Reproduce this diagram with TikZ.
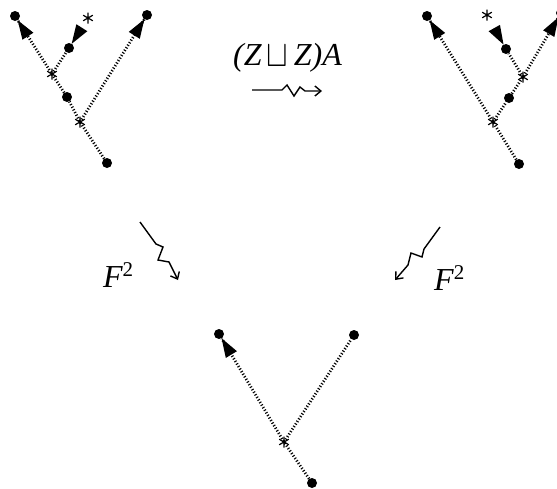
\documentclass[tikz,border=0pt]{standalone}
\usepackage{fontspec}
\setmainfont{Liberation Serif}
\usetikzlibrary{calc,arrows.meta}
\tikzset{
 dotnode/.style={circle,fill=black,inner sep=0pt,minimum size=10pt},
 dline/.style={line width=2.8pt,dash pattern=on 1.1pt off 1.9pt},
 squig/.style={line width=1.4pt,line join=miter,-{Straight Barb[length=6pt,width=10pt,line width=1.4pt]}},
 lbl/.style={inner sep=0pt,font=\fontsize{32}{38}\selectfont\itshape},
 astk/.style={line width=1.2pt},
}
\newcommand\flagtri[2]{\fill ($(#1.center)!5pt!(#2)$) -- ($(#1.center)!24pt!(#2)!6.5pt!90:(#1.center)$) -- ($(#1.center)!24pt!(#2)!6.5pt!-90:(#1.center)$) -- cycle;}
\newcommand\astk[1]{\draw[astk] (#1) +(90:5.5pt) -- +(270:5.5pt) +(30:5.5pt) -- +(210:5.5pt) +(150:5.5pt) -- +(330:5.5pt);}
\begin{document}
\begin{tikzpicture}[x=1pt,y=-1pt]
\useasboundingbox (0,0) rectangle (557,488);
% ---------- left tree ----------
\node[dotnode] (r1) at (107,163) {};
\coordinate (s1) at (80,122);
\node[dotnode] (d1) at (67,97) {};
\coordinate (u1) at (52,74);
\node[dotnode] (l1) at (15,16) {};
\node[dotnode] (m1) at (69,48) {};
\coordinate (sm1) at (88,18);
\node[dotnode] (t1) at (147,15) {};
\draw[dline] (r1) -- (s1) -- (d1) -- (u1) -- (l1);
\draw[dline] (u1) -- (m1);
\draw[dline] (s1) -- (t1);
\flagtri{l1}{u1}
\flagtri{m1}{sm1}
\flagtri{t1}{s1}
\astk{s1}\astk{u1}\astk{sm1}
% ---------- right tree ----------
\node[dotnode] (r2) at (519,164) {};
\coordinate (s2) at (493,122);
\node[dotnode] (l2) at (427,16) {};
\node[dotnode] (d2) at (509,98) {};
\coordinate (u2) at (523,77);
\node[dotnode] (t2) at (561,13) {};
\node[dotnode] (m2) at (506,49) {};
\coordinate (sm2) at (487,15);
\draw[dline] (r2) -- (s2) -- (l2);
\draw[dline] (s2) -- (d2) -- (u2) -- (t2);
\draw[dline] (u2) -- (m2);
\flagtri{l2}{s2}
\flagtri{t2}{u2}
\flagtri{m2}{sm2}
\astk{s2}\astk{u2}\astk{sm2}
% ---------- bottom tree ----------
\node[dotnode] (r3) at (312,483) {};
\coordinate (s3) at (284,442);
\node[dotnode] (l3) at (219,334) {};
\node[dotnode] (t3) at (354,335) {};
\draw[dline] (r3) -- (s3) -- (l3);
\draw[dline] (s3) -- (t3);
\flagtri{l3}{s3}
\astk{s3}
% ---------- labels ----------
\node[lbl,anchor=base west] (top) at (233,65) {(Z\,\upshape\raisebox{-1.5pt}{\scalebox{1.3}[1.5]{$\sqcup$}}\,\itshape Z)A};
\node[lbl,anchor=base west] (fl) at (103,287) {F\raisebox{11pt}{\fontsize{21}{24}\selectfont\upshape 2}};
\node[lbl,anchor=base west] (fr) at (434,290) {F\raisebox{11pt}{\fontsize{21}{24}\selectfont\upshape 2}};
% ---------- squiggly arrows ----------
\coordinate (a0) at (252,90);
\coordinate (a1) at (322,91);
\draw[squig] (a0) -- (282,90) -- (287,85) -- (294,96) -- (300,87) -- (305,91) -- (a1);
\coordinate (b0) at (140,222);
\coordinate (b1) at (178,280);
\draw[squig] (b0) -- (156,244) -- (163,247) -- (158,260) -- (169,262) -- (b1);
\coordinate (c0) at (440,227);
\coordinate (c1) at (395,280);
\draw[squig] (c0) -- (424,249) -- (422,257) -- (411,253) -- (408,265) -- (c1);
\end{tikzpicture}
\end{document}
